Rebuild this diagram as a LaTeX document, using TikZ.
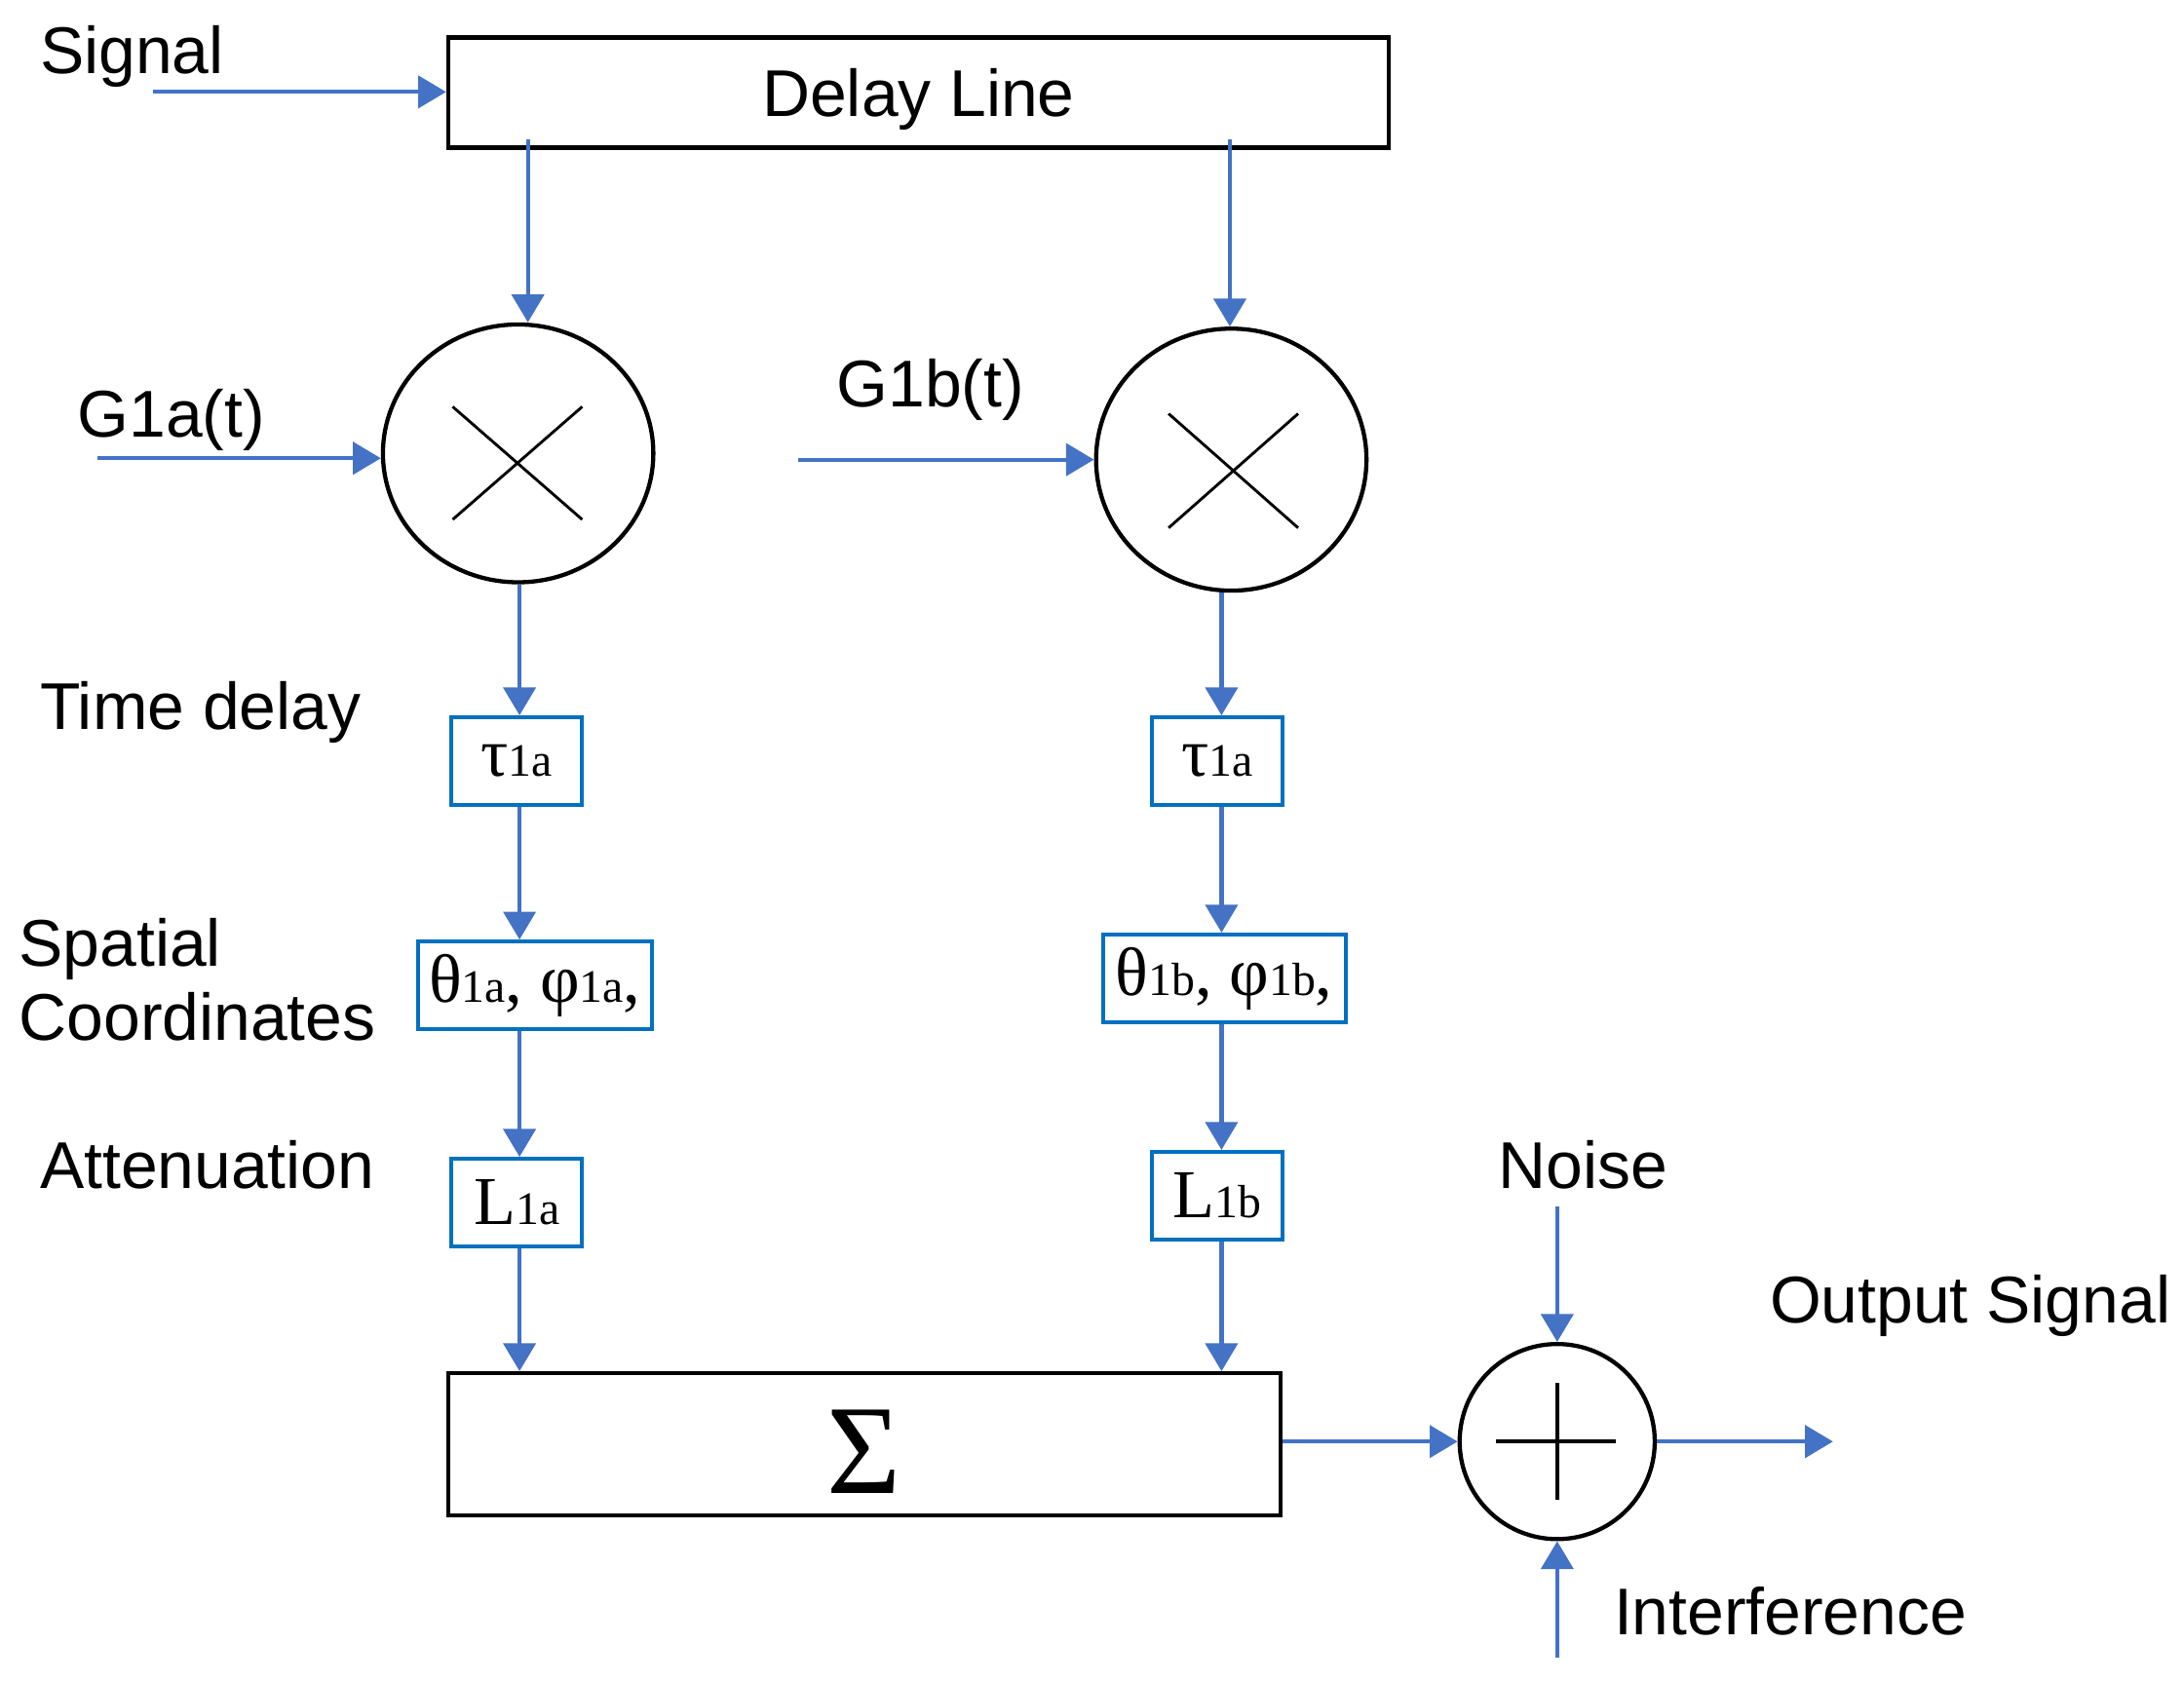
\documentclass[tikz,border=0pt]{standalone}
\usepackage{fontspec}
\setmainfont{Liberation Sans}
\newfontfamily\serifgr{Liberation Serif}
\usetikzlibrary{arrows.meta,shapes.geometric}
\definecolor{arrowblue}{HTML}{4472C4}
\definecolor{boxblue}{HTML}{0070C0}
\newcommand\sbx[1]{{\fontsize{9.5}{10}\selectfont #1}}
\begin{document}
\begin{tikzpicture}[x=0.01cm,y=-0.01cm,
  lbl/.style={font=\fontsize{13.5}{16}\selectfont, inner sep=0},
  blackbox/.style={draw=black, line width=0.03cm, inner sep=0},
  mult/.style={draw=black, line width=0.03cm, ellipse, inner sep=0},
  parbox/.style={draw=boxblue, line width=0.028cm, inner sep=0, font=\serifgr\fontsize{14}{16}\selectfont},
  conn/.style={draw=arrowblue, line width=0.03cm, -{Triangle[length=0.2cm,width=0.23cm]}},
  cross/.style={draw=black, line width=0.02cm}]
\useasboundingbox (0,0) rectangle (1568,1208);
% labels
\node[lbl, anchor=base west] (lsig) at (28,53) {Signal};
\node[lbl, anchor=base west] (lga) at (55,314) {G1a(t)};
\node[lbl, anchor=base west] (lgb) at (600,292) {G1b(t)};
\node[lbl, anchor=base west] (ltd) at (28,524) {Time delay};
\node[lbl, anchor=base west, align=left] (lsp) at (13,747) {Spatial\\[-0.8pt]Coordinates};
\node[lbl, anchor=base west] (lat) at (28,853) {Attenuation};
\node[lbl, anchor=base west] (lno) at (1075,853) {Noise};
\node[lbl, anchor=base west] (lout) at (1270,950) {Output Signal};
\node[lbl, anchor=base west] (lint) at (1158,1174) {Interference};
% delay line
\node[blackbox, minimum width=6.75cm, minimum height=0.79cm, text depth=0pt, font=\fontsize{13.5}{16}\selectfont] (dl) at (659.5,66.5) {Delay Line};
% multipliers
\node[mult, minimum width=1.94cm, minimum height=1.85cm] (m1) at (372,325.5) {};
\node[mult, minimum width=1.94cm, minimum height=1.88cm] (m2) at (884,330) {};
\draw[cross] (325,292) -- (418,373) (418,292) -- (325,373);
\draw[cross] (839,297) -- (932,379) (932,297) -- (839,379);
% parameter boxes
\node[parbox, minimum width=0.94cm, minimum height=0.63cm] (tauA) at (371,546.5) {τ\sbx{1a}};
\node[parbox, minimum width=1.68cm, minimum height=0.63cm] (thA) at (384,707.5) {θ\sbx{1a}, φ\sbx{1a},};
\node[parbox, minimum width=0.94cm, minimum height=0.63cm] (LA) at (371,863.5) {L\sbx{1a}};
\node[parbox, minimum width=0.94cm, minimum height=0.63cm] (tauB) at (874,546.5) {τ\sbx{1a}};
\node[parbox, minimum width=1.74cm, minimum height=0.63cm] (thB) at (879,702.5) {θ\sbx{1b}, φ\sbx{1b},};
\node[parbox, minimum width=0.94cm, minimum height=0.63cm] (LB) at (874,858.5) {L\sbx{1b}};
% sum and adder
\node[blackbox, minimum width=5.97cm, minimum height=1.02cm, text depth=0pt, font=\serifgr\fontsize{26}{28}\selectfont] (sum) at (620.5,1037) {\raisebox{-3pt}{Σ}};
\node[draw=black, line width=0.03cm, circle, minimum size=1.4cm, inner sep=0] (add) at (1118,1035) {};
\draw[black, line width=0.025cm] (1074,1035) -- (1160,1035) (1118,993) -- (1118,1077);
% helper coordinates
\coordinate (xA) at (373,0);
\coordinate (xB) at (877,0);
\coordinate (sigS) at (110,66);
\coordinate (gaS) at (70,329);
\coordinate (gbS) at (573,330);
\coordinate (dA) at (379,100);
\coordinate (dB) at (883,100);
\coordinate (noS) at (1118,866);
\coordinate (inS) at (1118,1190);
\coordinate (outE) at (1316,1035);
% connectors
\draw[conn] (sigS) -- (dl.west |- sigS);
\draw[conn] (dA) -- (m1.north -| dA);
\draw[conn] (dB) -- (m2.north -| dB);
\draw[conn] (gaS) -- (m1.west |- gaS);
\draw[conn] (gbS) -- (m2.west |- gbS);
\draw[conn] (m1.south -| xA) -- (tauA.north -| xA);
\draw[conn] (tauA.south -| xA) -- (thA.north -| xA);
\draw[conn] (thA.south -| xA) -- (LA.north -| xA);
\draw[conn] (LA.south -| xA) -- (sum.north -| xA);
\draw[conn] (m2.south -| xB) -- (tauB.north -| xB);
\draw[conn] (tauB.south -| xB) -- (thB.north -| xB);
\draw[conn] (thB.south -| xB) -- (LB.north -| xB);
\draw[conn] (LB.south -| xB) -- (sum.north -| xB);
\draw[conn] (sum.east |- add) -- (add.west);
\draw[conn] (noS) -- (add.north);
\draw[conn] (inS) -- (add.south);
\draw[conn] (add.east) -- (outE);
\end{tikzpicture}
\end{document}
